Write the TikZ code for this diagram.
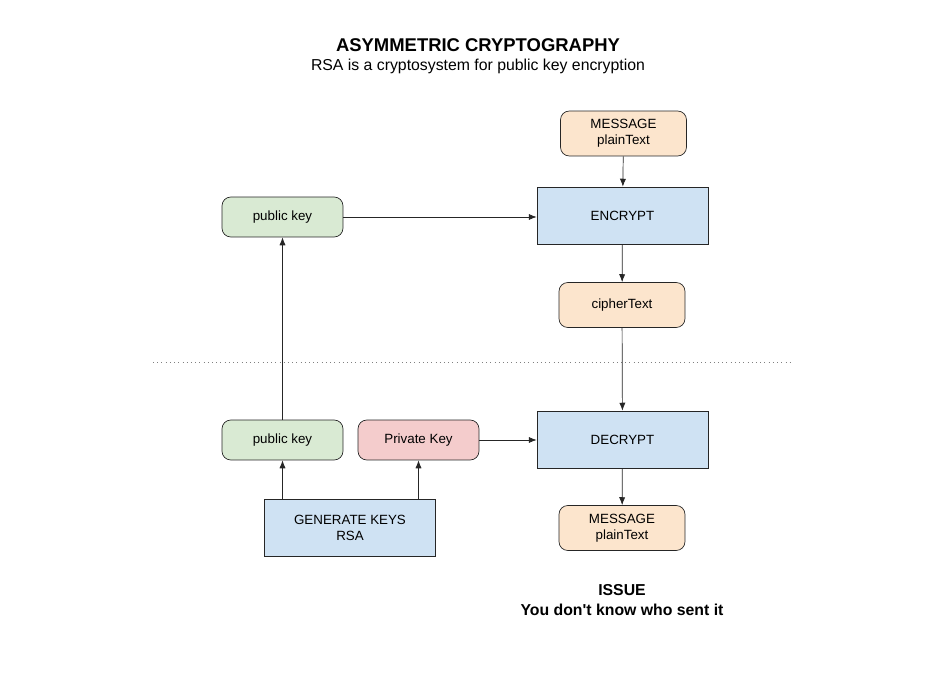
\documentclass[tikz,border=0pt]{standalone}
\usepackage{fontspec}
\setmainfont{Liberation Sans}
\usetikzlibrary{arrows.meta}
\definecolor{msgfill}{HTML}{FCE5CD}
\definecolor{keyfill}{HTML}{D9EAD3}
\definecolor{privfill}{HTML}{F4CCCC}
\definecolor{opfill}{HTML}{CFE2F3}
\tikzset{
	keybox/.style={draw=black!85,rounded corners=5pt,minimum width=2.42cm,minimum height=0.8cm,font=\fontsize{7.6}{9}\selectfont,align=center},
	msgbox/.style={keybox,fill=msgfill,minimum width=2.52cm,minimum height=0.9cm},
	opbox/.style={draw=black!85,fill=opfill,minimum width=3.42cm,minimum height=1.14cm,font=\fontsize{7.6}{9}\selectfont,align=center},
	link/.style={-{Latex[length=4.5pt,width=3.5pt]},thin,black!85}
}
\begin{document}
\begin{tikzpicture}[x=0.02cm,y=-0.02cm]
	\useasboundingbox (0,0) rectangle (947,675);
	% Title
	\node (title) at (478,45) {\fontsize{10.5}{12}\selectfont\bfseries ASYMMETRIC CRYPTOGRAPHY};
	\node (subtitle) at (478,66) {\fontsize{9}{10}\selectfont RSA is a cryptosystem for public key encryption};
	% Encryption side
	\node[msgbox] (msgin) at (623.5,133.5) {MESSAGE\\plainText};
	\node[opbox] (encrypt) at (622.5,215.5) {ENCRYPT};
	\node[keybox,fill=keyfill] (pubtop) at (282.5,217) {public key};
	\node[msgbox] (cipher) at (622,305) {cipherText};
	% Separator
	\draw[dotted,gray,thin] (153,362) -- (793,362);
	% Decryption side
	\node[opbox] (decrypt) at (622.5,439.5) {DECRYPT};
	\node[keybox,fill=keyfill] (pubbot) at (282.5,440) {public key};
	\node[keybox,fill=privfill] (privkey) at (418.5,440) {Private Key};
	\node[opbox] (genkeys) at (350,527.5) {GENERATE KEYS\\RSA};
	\node[msgbox] (msgout) at (622,528) {MESSAGE\\plainText};
	% Issue
	\node[font=\fontsize{9}{11}\selectfont\bfseries,align=center] (issue) at (622,600) {ISSUE\\You don\textquotesingle t know who sent it};
	% Connectors
	\draw[link] (msgin) -- (encrypt);
	\draw[link] (pubtop) -- (encrypt.west |- pubtop);
	\draw[link] (encrypt) -- (cipher);
	\draw[link] (cipher) -- (decrypt);
	\draw[link] (pubbot) -- (pubtop);
	\draw[link] (privkey) -- (decrypt.west |- privkey);
	\draw[link] (genkeys.north -| pubbot) -- (pubbot);
	\draw[link] (genkeys.north -| privkey) -- (privkey);
	\draw[link] (decrypt) -- (msgout);
\end{tikzpicture}
\end{document}
